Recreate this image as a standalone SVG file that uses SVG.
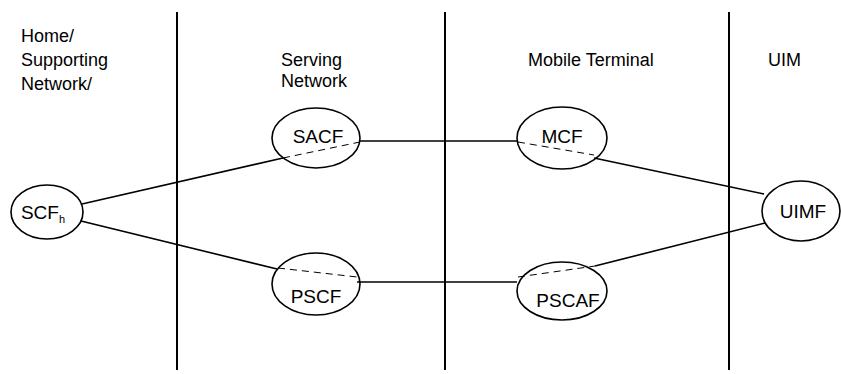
<svg xmlns="http://www.w3.org/2000/svg" width="841" height="374" viewBox="0 0 841 374">
  <style>
    .lbl { font-family: "Liberation Sans", Arial, sans-serif; font-size: 18px; fill: #000; }
    .node ellipse { fill: #fff; stroke: #000; stroke-width: 1.6; }
    .node text { font-family: "Liberation Sans", Arial, sans-serif; font-size: 19px; fill: #000; text-anchor: middle; }
    .sub { font-size: 11px; }
    .divider { stroke: #000; stroke-width: 2; }
    .link { stroke: #000; stroke-width: 1.6; fill: none; }
    .hidden { stroke: #000; stroke-width: 1; fill: none; stroke-dasharray: 7 5; }
  </style>
  <rect width="841" height="374" fill="#fff"/>

  <!-- domain dividers -->
  <g id="dividers">
    <line class="divider" x1="177" y1="12" x2="177" y2="370"/>
    <line class="divider" x1="445" y1="12" x2="445" y2="370"/>
    <line class="divider" x1="729" y1="12" x2="729" y2="370"/>
  </g>

  <!-- domain headings -->
  <g id="headings">
    <text class="lbl" x="21" y="42">Home/</text>
    <text class="lbl" x="21" y="66">Supporting</text>
    <text class="lbl" x="21" y="90">Network/</text>
    <text class="lbl" x="281" y="66">Serving</text>
    <text class="lbl" x="281" y="87">Network</text>
    <text class="lbl" x="528" y="66">Mobile Terminal</text>
    <text class="lbl" x="768" y="66">UIM</text>
  </g>

  <!-- nodes -->
  <g id="scfh" class="node">
    <ellipse cx="47" cy="212" rx="36" ry="27"/>
    <text x="43" y="219">SCF<tspan class="sub" dy="4">h</tspan></text>
  </g>
  <g id="sacf" class="node">
    <ellipse cx="316" cy="138" rx="44" ry="30"/>
    <text x="318" y="143">SACF</text>
  </g>
  <g id="mcf" class="node">
    <ellipse cx="562" cy="138" rx="45" ry="31"/>
    <text x="562" y="143">MCF</text>
  </g>
  <g id="pscf" class="node">
    <ellipse cx="316" cy="284" rx="44" ry="31"/>
    <text x="316" y="303">PSCF</text>
  </g>
  <g id="pscaf" class="node">
    <ellipse cx="562" cy="291" rx="45" ry="29"/>
    <text x="568" y="307">PSCAF</text>
  </g>
  <g id="uimf" class="node">
    <ellipse cx="801" cy="211" rx="39" ry="30"/>
    <text x="803" y="218">UIMF</text>
  </g>

  <!-- connectors (dashed where they pass through an ellipse) -->
  <g id="connectors">
    <line class="link" x1="82" y1="204" x2="283" y2="158"/>
    <line class="hidden" x1="283" y1="158" x2="360" y2="142"/>
    <line class="link" x1="360" y1="141" x2="517" y2="141"/>
    <line class="hidden" x1="518" y1="142" x2="594" y2="155"/>
    <line class="link" x1="594" y1="158" x2="764" y2="194"/>

    <line class="link" x1="81" y1="221" x2="277" y2="269"/>
    <line class="hidden" x1="278" y1="268" x2="357" y2="277"/>
    <line class="link" x1="357" y1="282" x2="517" y2="282"/>
    <line class="hidden" x1="518" y1="277" x2="595" y2="266"/>
    <line class="link" x1="595" y1="266" x2="765" y2="223"/>
  </g>
</svg>
